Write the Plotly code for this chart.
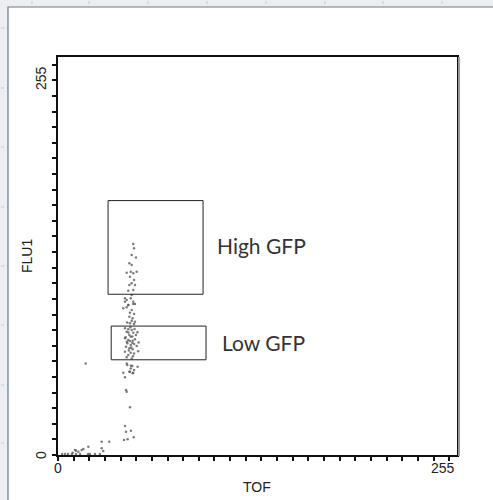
import plotly.graph_objects as go

# ---- data (TOF, FLU1) ----
tof = [48.1, 48.6, 47.1, 49.8, 45.6, 47.1, 43.9, 46.5, 48.1, 50.3, 46.0, 48.6, 47.1, 45.6, 49.2,
       48.1, 44.9, 47.1, 42.8, 43.9, 46.5, 44.9, 48.1, 41.7, 43.9,
       42.8, 48.1, 44.9, 49.2, 47.1, 46.0, 48.6, 45.6, 47.7, 47.1, 49.2, 46.0, 48.6, 42.8, 44.9,
       47.1, 43.9, 48.1, 45.6, 46.5, 49.8, 42.8, 44.9, 47.7, 49.2, 44.3, 46.5, 48.6, 50.3, 43.5,
       45.6, 47.7, 42.8, 46.5, 48.6, 44.9, 43.9, 47.1, 44.3, 46.5, 48.6, 45.6, 47.7, 42.8,
       45.0, 47.5, 44.0, 46.8, 45.3, 47.9, 43.2, 46.2, 48.9, 44.2, 47.5, 45.9, 51.5, 50.8, 51.2,
       43.9, 46.6, 47.5, 50.9, 41.7, 46.0, 48.1, 43.5, 43.9, 46.0, 42.8, 43.5, 46.6, 42.2, 44.5, 48.4,
       17.7, 32.8, 27.9, 19.4, 27.9, 28.9, 10.9, 13.0, 15.1, 16.2, 9.4, 11.5,
       2.6, 4.5, 6.4, 8.9, 11.5, 14.1, 19.2, 20.4, 23.6, 26.8]
flu1 = [135.2, 132.4, 128.1, 126.6, 122.8, 121.7, 116.8, 117.4, 116.4, 117.4, 114.2, 112.1, 110.0, 108.9, 108.9,
        105.7, 105.3, 102.5, 100.4, 99.3, 100.4, 96.1, 96.7, 94.0, 94.6,
        98.2, 98.2, 96.1, 96.7, 92.9, 91.2, 90.3, 88.6, 87.6, 86.0, 85.4, 84.4, 83.9, 81.2, 80.5,
        80.1, 79.0, 78.3, 76.9, 75.8, 76.9, 74.8, 73.7, 73.2, 74.1, 71.6, 70.5, 71.1, 69.8, 69.4,
        68.4, 67.7, 66.2, 65.5, 65.1, 64.1, 62.6, 61.9, 57.7, 55.5, 54.5, 53.4, 52.3, 49.8,
        78.5, 76.0, 72.5, 68.9, 66.9, 63.3, 75.5, 81.8, 80.8, 84.9, 71.9, 73.0, 72.0, 78.6, 66.5,
        58.7, 57.2, 57.0, 56.6, 52.7, 53.4, 52.7, 41.6, 40.6, 30.6, 18.6, 14.9, 15.6, 9.6, 10.1, 11.3,
        58.7, 8.5, 8.5, 5.3, 4.3, 2.6, 3.2, 2.1, 3.2, 3.8, 1.5, 2.8,
        0.6, 0.6, 0.6, 0.6, 0.6, 0.6, 0.6, 0.6, 0.6, 0.6]

# gates: name, TOF range, FLU1 range
gate_names = ["High GFP", "Low GFP"]
gate_tof = [(32, 92.7), (34, 94.6)]
gate_flu = [(103, 163), (61, 82.6)]
gate_label_pos = [(100.5, 134), (103.5, 72.4)]

x_title = "TOF"
y_title = "FLU1"
tick_labels = ["0", "255"]
axis_max = 255

W, H = 493, 500
L, R, T, B = 58, 36, 57, 45
pw, ph = W - L - R, H - T - B


def px(xp):
    return (xp - L) / pw


def py(yp):
    return (H - B - yp) / ph


fig = go.Figure()
fig.add_trace(go.Scatter(x=tof, y=flu1, mode="markers",
                         marker=dict(size=2.5, color="rgba(80,80,80,0.75)"),
                         hoverinfo="skip", showlegend=False))

shapes = []
grid_col = "#b9cbe8"
for xg in [32, 89, 148, 207, 266, 325, 383, 442]:
    shapes.append(dict(type="line", xref="paper", yref="paper", x0=px(xg), x1=px(xg),
                       y0=py(-5), y1=py(H + 5), line=dict(color=grid_col, width=1, dash="dot"),
                       layer="below"))
for yg in [28, 88, 147, 207, 266, 325, 385, 443]:
    shapes.append(dict(type="line", xref="paper", yref="paper", x0=px(-5), x1=px(W + 5),
                       y0=py(yg), y1=py(yg), line=dict(color=grid_col, width=1, dash="dot"),
                       layer="below"))
# white panel
shapes.append(dict(type="rect", xref="paper", yref="paper", x0=px(8), x1=px(W + 20),
                   y0=py(H + 20), y1=py(7), fillcolor="white",
                   line=dict(color="#6a7888", width=1.2), layer="below"))
# shadow on right border
shapes.append(dict(type="line", xref="paper", yref="paper", x0=px(459), x1=px(459),
                   y0=py(456), y1=py(57), line=dict(color="#9a9a9a", width=2)))
for (x0, x1), (y0, y1) in zip(gate_tof, gate_flu):
    shapes.append(dict(type="rect", xref="x", yref="y", x0=x0, x1=x1, y0=y0, y1=y1,
                       line=dict(color="#222", width=1), fillcolor="rgba(0,0,0,0)"))

ann = []
tick_font = dict(family="Liberation Sans, Arial", size=14, color="#222")
ann.append(dict(x=0, y=py(468), xref="x", yref="paper", text=tick_labels[0], showarrow=False,
                xanchor="center", yanchor="middle", font=tick_font))
ann.append(dict(x=axis_max, y=py(468), xref="x", yref="paper", text=tick_labels[1], showarrow=False,
                xanchor="right", yanchor="middle", font=tick_font))
ann.append(dict(x=px(41), y=0, xref="paper", yref="y", text=tick_labels[0], showarrow=False,
                textangle=-90, xanchor="center", yanchor="middle", font=tick_font))
ann.append(dict(x=px(41), y=py(78), xref="paper", yref="paper", text=tick_labels[1], showarrow=False,
                textangle=-90, xanchor="center", yanchor="middle", font=tick_font))
ann.append(dict(x=px(257), y=py(487), xref="paper", yref="paper", text=x_title, showarrow=False,
                xanchor="center", yanchor="middle", font=tick_font))
ann.append(dict(x=px(27), y=py(256), xref="paper", yref="paper", text=y_title, showarrow=False,
                textangle=-90, xanchor="center", yanchor="middle", font=tick_font))
for name, (lx, ly) in zip(gate_names, gate_label_pos):
    ann.append(dict(x=lx, y=ly, xref="x", yref="y", text=name, showarrow=False,
                    xanchor="left", yanchor="middle",
                    font=dict(family="Lato", size=21, color="#333")))

axis_common = dict(range=[0, axis_max], showgrid=False, zeroline=False, showline=True,
                   mirror=True, linecolor="#111", linewidth=1.5, ticks="outside", ticklen=4,
                   tickwidth=1.5, tickcolor="#111", tick0=0, dtick=10, showticklabels=False,
                   fixedrange=True)

fig.update_layout(width=W, height=H, margin=dict(l=L, r=R, t=T, b=B),
                  paper_bgcolor="#eceeef", plot_bgcolor="white",
                  xaxis=axis_common, yaxis=axis_common,
                  shapes=shapes, annotations=ann, showlegend=False)

fig.write_html("out.html", config={"displayModeBar": False},
               post_script="document.body.style.margin='0';document.body.style.overflow='hidden';")
